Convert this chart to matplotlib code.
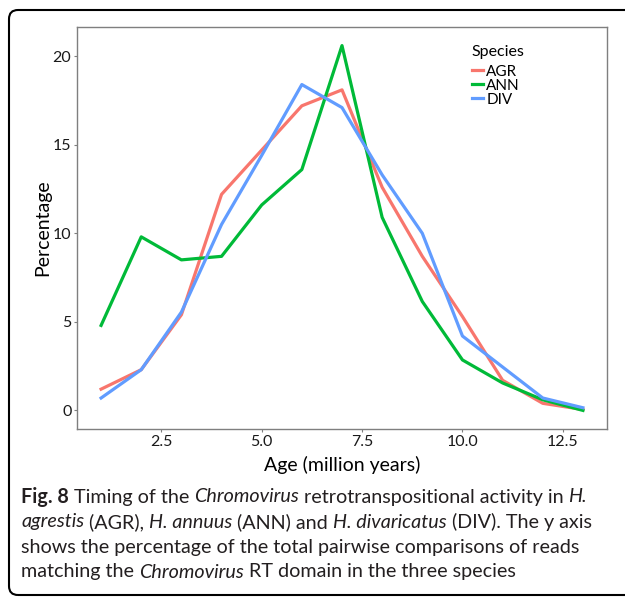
import matplotlib
matplotlib.use("Agg")
from matplotlib import pyplot as plt
from matplotlib.patches import FancyBboxPatch
from matplotlib.transforms import IdentityTransform

# Age bins (million years) and percentage per species
ages = [1, 2, 3, 4, 5, 6, 7, 8, 9, 10, 11, 12, 13]
agr = [1.2, 2.3, 5.4, 12.2, 14.7, 17.2, 18.1, 12.6, 8.7, 5.3, 1.7, 0.4, 0.05]
ann = [4.8, 9.8, 8.5, 8.7, 11.6, 13.6, 20.6, 10.9, 6.15, 2.85, 1.55, 0.6, 0.0]
div = [0.7, 2.3, 5.55, 10.5, 14.4, 18.4, 17.1, 13.3, 10.0, 4.2, 2.45, 0.7, 0.15]

species = ["AGR", "ANN", "DIV"]
colors = ["#F8766D", "#00BA38", "#619CFF"]
xticks = [2.5, 5.0, 7.5, 10.0, 12.5]
yticks = [0, 5, 10, 15, 20]

plt.rcParams['font.family'] = ['Lato', 'DejaVu Sans']

W, H = 625, 599
fig = plt.figure(figsize=(W / 100, H / 100), dpi=100)

# rounded outer box, in pixels (right side runs off the image)
box = FancyBboxPatch((9, H - 595), 680, 585,
                     boxstyle="round,pad=0,rounding_size=9",
                     transform=IdentityTransform(), fill=False,
                     edgecolor="black", linewidth=1.5, clip_on=False)
fig.patches.append(box)

ax = fig.add_axes([77 / W, 1 - 429 / H, (607 - 77) / W, (429 - 27) / H])
for name, vals, c in zip(species, [agr, ann, div], colors):
    ax.plot(ages, vals, color=c, linewidth=2.3, label=name)

ax.set_xlim(0.4, 13.6)
ax.set_ylim(-1.05, 21.65)
ax.set_xticks(xticks)
ax.set_xticklabels([f"{t:.1f}" for t in xticks])
ax.set_yticks(yticks)
for s in ax.spines.values():
    s.set_color("#7f7f7f")
    s.set_linewidth(1.0)
ax.tick_params(length=2.5, width=0.8, color="#7f7f7f", labelsize=11.5,
               labelcolor="#1a1a1a", pad=1.5)
ax.set_xlabel("Age (million years)", fontsize=14, labelpad=5)
ax.set_ylabel("Percentage", fontsize=14, labelpad=1)

leg = ax.legend(title="Species", loc="upper left", bbox_to_anchor=(0.745, 0.955),
                frameon=False, fontsize=11, title_fontsize=11.5,
                handlelength=0.7, handletextpad=0.25, labelspacing=0.0,
                borderaxespad=0, borderpad=0)
leg._legend_box.align = "left"
leg._legend_box.sep = 4

# caption with mixed styles
caption = [
    [("Fig. 8", "bold"), (" Timing of the ", None), ("Chromovirus", "italic"),
     (" retrotranspositional activity in ", None), ("H.", "italic")],
    [("agrestis", "italic"), (" (AGR), ", None), ("H. annuus", "italic"),
     (" (ANN) and ", None), ("H. divaricatus", "italic"), (" (DIV). The y axis", None)],
    [("shows the percentage of the total pairwise comparisons of reads", None)],
    [("matching the ", None), ("Chromovirus", "italic"), (" RT domain in the three species", None)],
]
renderer = fig.canvas.get_renderer()
y0 = 497
for i, line in enumerate(caption):
    x = 21
    y = 1 - (y0 + 25 * i) / H
    for txt, style in line:
        kw = dict(fontsize=14.2, va="center", ha="left", color="#231f20")
        if style == "bold":
            kw["fontweight"] = "bold"
        elif style == "italic":
            kw["fontstyle"] = "italic"
        t = fig.text(x / W, y, txt, **kw)
        bb = t.get_window_extent(renderer=renderer)
        x += bb.width

fig.savefig("out.png", dpi=100)
